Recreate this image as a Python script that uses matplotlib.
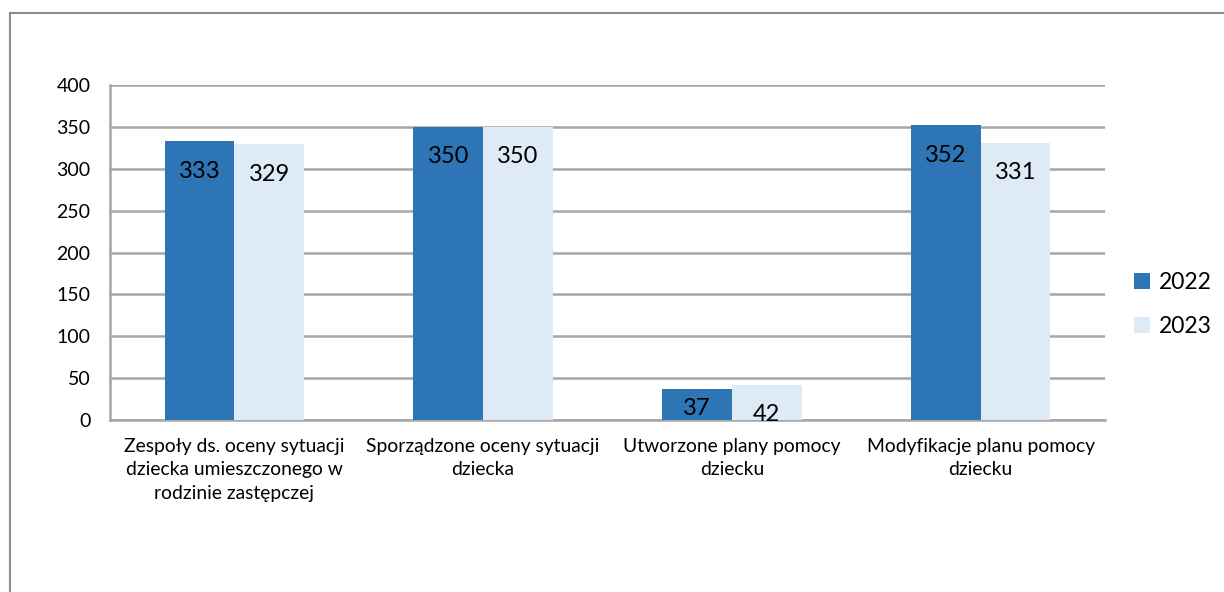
import matplotlib
matplotlib.use("Agg")
import matplotlib.pyplot as plt
from matplotlib.patches import Rectangle
import numpy as np

plt.rcParams['font.family'] = ['Lato', 'DejaVu Sans']

categories = ["Zespoły ds. oceny sytuacji\ndziecka umieszczonego w\nrodzinie zastępczej",
              "Sporządzone oceny sytuacji\ndziecka",
              "Utworzone plany pomocy\ndziecku",
              "Modyfikacje planu pomocy\ndziecku"]
series_names = ["2022", "2023"]
values_2022 = [333, 350, 37, 352]
values_2023 = [329, 350, 42, 331]
yticks = [0, 50, 100, 150, 200, 250, 300, 350, 400]

colors = ["#2E75B6", "#DEEBF7"]
grid_color = "#A6A6A6"

fig = plt.figure(figsize=(12.24, 5.92), dpi=100)
# outer chart frame (cut off at right and bottom)
fig.patches.append(Rectangle((10 / 1224, -0.1), 1.2, 1 - 13 / 592 + 0.1,
                             transform=fig.transFigure, fill=False,
                             edgecolor="#8C8C8C", linewidth=1.5))

ax = fig.add_axes([110 / 1224, 1 - 420 / 592, 995 / 1224, 335 / 592])

x = np.arange(len(categories))
w = 0.28
b1 = ax.bar(x - w / 2, values_2022, w, color=colors[0], label=series_names[0], zorder=3)
b2 = ax.bar(x + w / 2, values_2023, w, color=colors[1], label=series_names[1], zorder=3)

# value labels inside the top of each bar (px below top)
off_2022 = [30, 30, 19, 30]
off_2023 = [30, 30, 30, 30]
for bars, vals, offs in [(b1, values_2022, off_2022), (b2, values_2023, off_2023)]:
    for r, v, o in zip(bars, vals, offs):
        ax.annotate(str(v), (r.get_x() + r.get_width() / 2, v),
                    xytext=(0, -o * 0.72), textcoords="offset points",
                    ha="center", va="center", fontsize=17, color="black", zorder=4)

ax.set_xlim(-0.5, len(categories) - 0.5)
ax.set_ylim(0, 400)
ax.set_yticks(yticks)
ax.yaxis.grid(True, color=grid_color, linewidth=1.8, zorder=0)
ax.set_axisbelow(True)
ax.tick_params(axis="y", length=0, labelsize=14, pad=14)
ax.set_xticks(x)
ax.set_xticklabels(categories, fontsize=13.9, linespacing=1.45)
ax.tick_params(axis="x", length=0, pad=13)
for s in ["top", "right"]:
    ax.spines[s].set_visible(False)
for s in ["left", "bottom"]:
    ax.spines[s].set_color(grid_color)
    ax.spines[s].set_linewidth(1.8)

ax.legend(loc="center left", bbox_to_anchor=(1.008, 0.344), frameon=False,
          fontsize=16.5, handlelength=0.7, handleheight=0.7, handletextpad=0.4,
          labelspacing=1.0)

fig.savefig("out.png", dpi=100)
